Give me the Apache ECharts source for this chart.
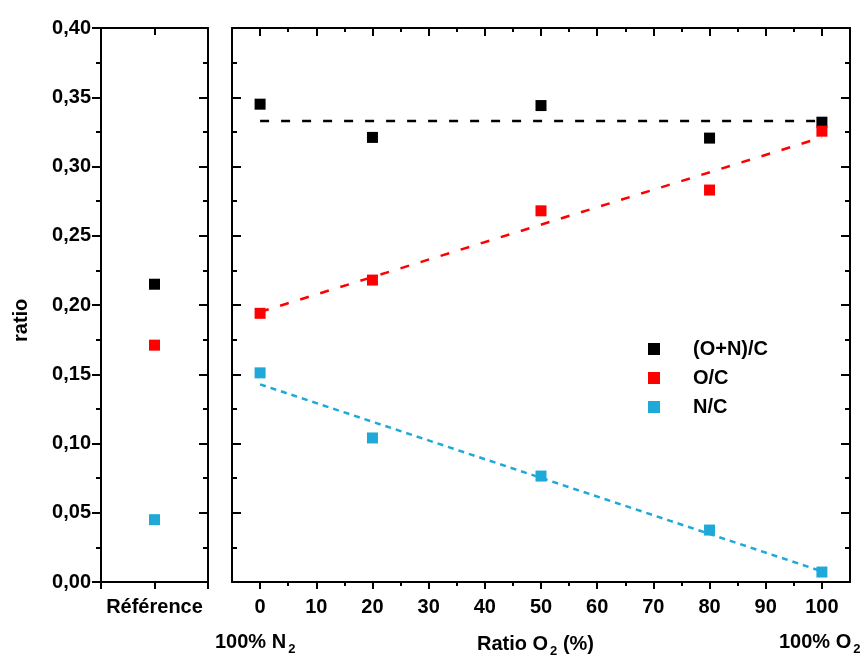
<!DOCTYPE html>
<html><head><meta charset="utf-8">
<script src="https://cdn.jsdelivr.net/npm/echarts@6/dist/echarts.min.js"></script>
<style>html,body{margin:0;padding:0;background:#fff}#c{width:866px;height:662px}</style>
</head><body><div id="c"></div>
<script>
const refLabel = 'Référence';
const xValues = [0, 20, 50, 80, 100];
const majorTicks = [0, 10, 20, 30, 40, 50, 60, 70, 80, 90, 100];
const minorTicks = [5, 15, 25, 35, 45, 55, 65, 75, 85, 95];
const seriesNames = ['(O+N)/C', 'O/C', 'N/C'];
const refONC = 0.215, refOC = 0.171, refNC = 0.045;
const onc = [0.345, 0.321, 0.344, 0.3205, 0.332];
const oc  = [0.194, 0.218, 0.268, 0.283, 0.3255];
const nc  = [0.151, 0.104, 0.0765, 0.0375, 0.0072];
const fitONC = [[0, 0.3329], [100, 0.3329]];
const fitOC  = [[0, 0.195], [100, 0.321]];
const fitNC  = [[0, 0.1427], [100, 0.0077]];
const colors = ['#000000', '#ff0000', '#1ea9d9'];

const F = 'Arial, "Liberation Sans", sans-serif';
const chart = echarts.init(document.getElementById('c'));
const AL = {show: true, onZero: false, lineStyle: {color: '#000', width: 2}};
const yBase = {type: 'value', min: 0, max: 0.4, interval: 0.05, axisLine: AL, splitLine: {show: false}};
function yAx(grid, pos, inside, labels) {
  return Object.assign({}, yBase, {
    gridIndex: grid, position: pos,
    axisTick: {show: true, inside: inside, length: 9, lineStyle: {color: '#000', width: 2}},
    minorTick: {show: true, splitNumber: 2, length: 5, lineStyle: {color: '#000', width: 2}},
    axisLabel: {show: labels, fontFamily: F, fontWeight: 'bold', fontSize: 20, color: '#000', margin: 10,
      formatter: v => v.toFixed(2).replace('.', ',')}
  });
}
const sq = (c) => ({color: c, opacity: 1});
const option = {
  animation: false,
  grid: [
    {left: 101, right: 866 - 208, top: 28, bottom: 80},
    {left: 232, right: 866 - 850, top: 28, bottom: 80}
  ],
  xAxis: [
    {type: 'value', gridIndex: 0, position: 'bottom', min: 0, max: 2, interval: 1,
      axisLine: AL, splitLine: {show: false},
      axisTick: {length: 7, lineStyle: {color: '#000', width: 2}},
      axisLabel: {fontFamily: F, fontWeight: 'bold', fontSize: 20, color: '#000', margin: 15,
        formatter: v => v === 1 ? refLabel : ''}},
    {type: 'value', gridIndex: 0, position: 'top', min: 0, max: 2, interval: 1,
      axisLine: AL, splitLine: {show: false},
      axisTick: {inside: true, length: 7, lineStyle: {color: '#000', width: 2}},
      axisLabel: {show: false}},
    {type: 'value', gridIndex: 1, position: 'bottom', min: -5, max: 105,
      axisLine: AL, splitLine: {show: false},
      axisTick: {length: 7, customValues: majorTicks, lineStyle: {color: '#000', width: 2}},
      axisLabel: {fontFamily: F, fontWeight: 'bold', fontSize: 20, color: '#000', margin: 15, customValues: majorTicks}},
    {type: 'value', gridIndex: 1, position: 'bottom', min: -5, max: 105,
      axisLine: {show: false, onZero: false}, splitLine: {show: false},
      axisTick: {length: 4, customValues: minorTicks, lineStyle: {color: '#000', width: 2}},
      axisLabel: {show: false}},
    {type: 'value', gridIndex: 1, position: 'top', min: -5, max: 105,
      axisLine: AL, splitLine: {show: false},
      axisTick: {inside: true, length: 8, customValues: majorTicks, lineStyle: {color: '#000', width: 2}},
      axisLabel: {show: false}},
    {type: 'value', gridIndex: 1, position: 'top', min: -5, max: 105,
      axisLine: {show: false, onZero: false}, splitLine: {show: false},
      axisTick: {inside: true, length: 4, customValues: minorTicks, lineStyle: {color: '#000', width: 2}},
      axisLabel: {show: false}}
  ],
  yAxis: [
    yAx(0, 'left', false, true),
    yAx(0, 'right', true, false),
    yAx(1, 'left', true, false),
    yAx(1, 'right', true, false)
  ],
  legend: {
    data: seriesNames, orient: 'vertical', left: 643, top: 334, itemGap: 9,
    icon: 'rect', itemWidth: 12, itemHeight: 12,
    itemStyle: {opacity: 1},
    textStyle: {fontFamily: F, fontWeight: 'bold', fontSize: 20, color: '#000', padding: [0, 0, 0, 28]}
  },
  graphic: [
    {type: 'text', rotation: Math.PI / 2, x: 11, y: 342, style: {text: 'ratio', font: 'bold 20px ' + F, fill: '#000'}},
    {type: 'text', x: 215, y: 629, style: {text: '{a|100% N}{s|2}', rich: {a: {font: 'bold 20px ' + F, fill: '#000'}, s: {font: 'bold 13px ' + F, fill: '#000', padding: [14, 0, 0, 2]}}}},
    {type: 'text', x: 477, y: 631, style: {text: '{a|Ratio O}{s|2}{a| (%)}', rich: {a: {font: 'bold 20px ' + F, fill: '#000'}, s: {font: 'bold 13px ' + F, fill: '#000', padding: [14, 0, 0, 2]}}}},
    {type: 'text', x: 779, y: 629, style: {text: '{a|100% O}{s|2}', rich: {a: {font: 'bold 20px ' + F, fill: '#000'}, s: {font: 'bold 13px ' + F, fill: '#000', padding: [14, 0, 0, 2]}}}}
  ],
  series: [
    {name: seriesNames[0], type: 'scatter', xAxisIndex: 0, yAxisIndex: 0, symbol: 'rect', symbolSize: 11, itemStyle: sq(colors[0]), data: [[1, refONC]]},
    {name: seriesNames[1], type: 'scatter', xAxisIndex: 0, yAxisIndex: 0, symbol: 'rect', symbolSize: 11, itemStyle: sq(colors[1]), data: [[1, refOC]]},
    {name: seriesNames[2], type: 'scatter', xAxisIndex: 0, yAxisIndex: 0, symbol: 'rect', symbolSize: 11, itemStyle: sq(colors[2]), data: [[1, refNC]]},
    {name: 'fit1', type: 'line', xAxisIndex: 2, yAxisIndex: 2, showSymbol: false, symbol: 'none', lineStyle: {color: colors[0], width: 2.5, type: [9, 12]}, data: fitONC, z: 1},
    {name: 'fit2', type: 'line', xAxisIndex: 2, yAxisIndex: 2, showSymbol: false, symbol: 'none', lineStyle: {color: colors[1], width: 2.5, type: [9, 12]}, data: fitOC, z: 1},
    {name: 'fit3', type: 'line', xAxisIndex: 2, yAxisIndex: 2, showSymbol: false, symbol: 'none', lineStyle: {color: colors[2], width: 2.5, type: [6, 5]}, data: fitNC, z: 1},
    {name: seriesNames[0], type: 'scatter', xAxisIndex: 2, yAxisIndex: 2, symbol: 'rect', symbolSize: 11, itemStyle: sq(colors[0]), data: xValues.map((x, i) => [x, onc[i]]), z: 3},
    {name: seriesNames[1], type: 'scatter', xAxisIndex: 2, yAxisIndex: 2, symbol: 'rect', symbolSize: 11, itemStyle: sq(colors[1]), data: xValues.map((x, i) => [x, oc[i]]), z: 3},
    {name: seriesNames[2], type: 'scatter', xAxisIndex: 2, yAxisIndex: 2, symbol: 'rect', symbolSize: 11, itemStyle: sq(colors[2]), data: xValues.map((x, i) => [x, nc[i]]), z: 3}
  ]
};
chart.setOption(option);
</script></body></html>
